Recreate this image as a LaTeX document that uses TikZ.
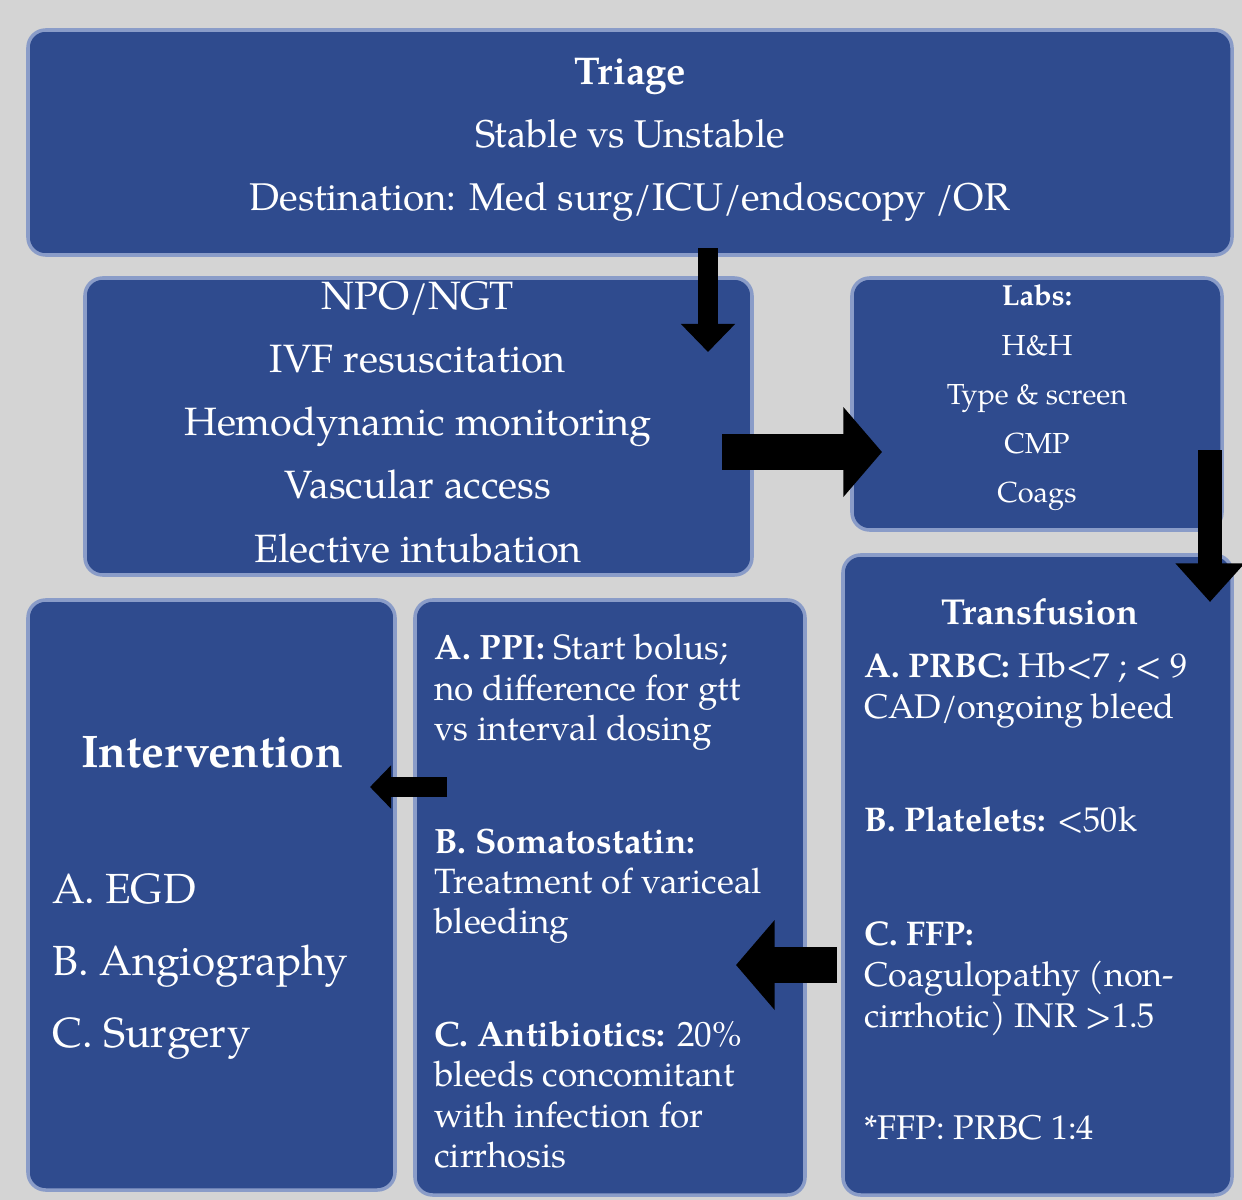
\documentclass[tikz,border=0pt]{standalone}
\usepackage{fontspec}
\setmainfont{TeX Gyre Pagella}
\usetikzlibrary{arrows.meta}
\definecolor{boxblue}{HTML}{2F4B8E}
\definecolor{boxedge}{HTML}{8A9CC8}
\definecolor{bg}{HTML}{D4D4D4}
\tikzset{
  panel/.style={draw=boxedge,line width=2pt,fill=boxblue,rounded corners=10pt},
  txt/.style={text=white,align=center,inner sep=0pt},
  ltxt/.style={text=white,align=left,anchor=north west,inner sep=0pt},
  blk/.style={line width=11pt,-{Triangle[width=30pt,length=16pt]},black}
}
\begin{document}
\begin{tikzpicture}[x=0.02cm,y=-0.02cm]
\useasboundingbox (0,0) rectangle (1242,1200);
\fill[bg] (0,0) rectangle (1242,1200);
\draw[panel] (28,30) rectangle (1232,255);
\draw[panel] (85,278) rectangle (752,575);
\draw[panel] (852,278) rectangle (1222,530);
\draw[panel] (28,600) rectangle (395,1190);
\draw[panel] (415,600) rectangle (805,1195);
\draw[panel] (843,555) rectangle (1232,1195);

\node[txt,font=\fontsize{22}{36}\selectfont] (tri) at (630,140) {\textbf{Triage}\\ Stable vs Unstable\\ Destination: Med surg/ICU/endoscopy /OR};
\node[txt,font=\fontsize{22.5}{36}\selectfont] (npo) at (418,422) {NPO/NGT\\ IVF resuscitation\\ Hemodynamic monitoring\\ Vascular access\\ Elective intubation};
\node[txt,font=\fontsize{16.5}{28}\selectfont] (labs) at (1037,398) {\textbf{Labs:}\\ H\&H\\ Type \& screen\\ CMP\\ Coags};
\node[txt,font=\fontsize{26}{30}\selectfont] (int) at (212,752) {\textbf{Intervention}};
\node[ltxt,font=\fontsize{24}{41}\selectfont] (intl) at (52,873) {A. EGD\\ B. Angiography\\ C. Surgery};
\node[ltxt,font=\fontsize{20}{23}\selectfont] (mid) at (434,634) {\textbf{A. PPI:} Start bolus;\\ no difference for gtt\\ vs interval dosing\\[41pt] \textbf{B. Somatostatin:}\\ Treatment of variceal\\ bleeding\\[41pt] \textbf{C. Antibiotics:} 20\%\\ bleeds concomitant\\ with infection for\\ cirrhosis};
\node[txt,font=\fontsize{20.5}{24}\selectfont\bfseries] (trh) at (1040,612) {Transfusion};
\node[ltxt,font=\fontsize{19.5}{23.5}\selectfont] (tr) at (864,652) {\textbf{A. PRBC:} Hb<7 ; < 9\\ CAD/ongoing bleed\\[41pt] \textbf{B. Platelets:} <50k\\[41pt] \textbf{C. FFP:}\\ Coagulopathy (non-\\ cirrhotic) INR >1.5\\[40pt] *FFP: PRBC 1:4};

\coordinate (a1) at (708,248); \coordinate (b1) at (708,352);
\coordinate (a2) at (722,452); \coordinate (b2) at (882,452);
\coordinate (a3) at (1210,450); \coordinate (b3) at (1210,602);
\coordinate (a4) at (837,965); \coordinate (b4) at (736,965);
\coordinate (a5) at (447,787); \coordinate (b5) at (370,787);
\draw[blk] (a1) -- (b1);
\draw[blk,line width=20pt,-{Triangle[width=50pt,length=22pt]}] (a2) -- (b2);
\draw[blk,line width=14pt,-{Triangle[width=38pt,length=22pt]}] (a3) -- (b3);
\draw[blk,line width=20pt,-{Triangle[width=50pt,length=22pt]}] (a4) -- (b4);
\draw[blk,-{Triangle[width=24pt,length=12pt]}] (a5) -- (b5);
\end{tikzpicture}
\end{document}
